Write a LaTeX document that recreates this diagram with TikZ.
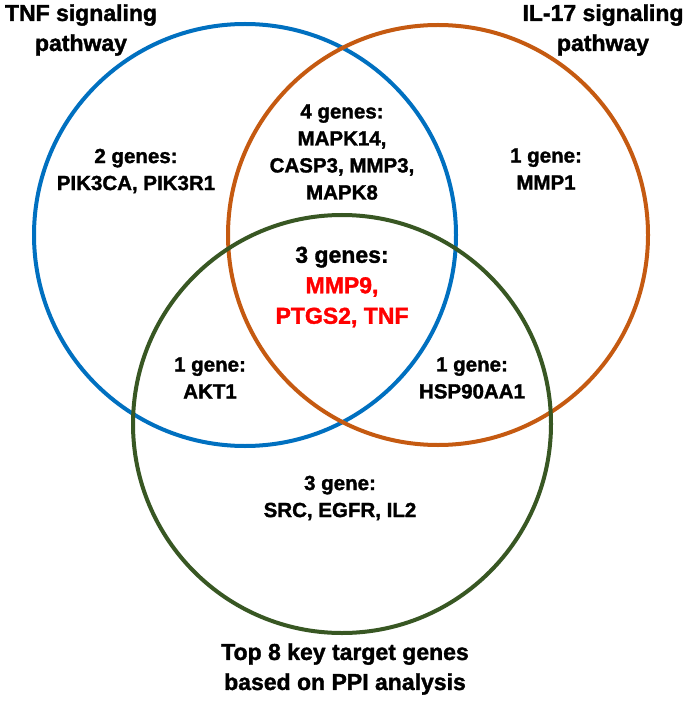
\documentclass[tikz,border=0pt]{standalone}
\usepackage{fontspec}
\setmainfont{Liberation Sans}[BoldFeatures={FakeBold=1.5}]
\definecolor{tnfblue}{HTML}{0070C0}
\definecolor{ilorange}{HTML}{C55A11}
\definecolor{ppigreen}{HTML}{385723}
\definecolor{keyred}{HTML}{FF0000}
\begin{document}
\begin{tikzpicture}[x=1pt,y=-1pt,
  ring/.style={line width=4pt},
  title/.style={font=\bfseries\fontsize{23}{30}\selectfont, align=center, inner sep=0pt},
  genes/.style={font=\bfseries\fontsize{20.5}{27}\selectfont, align=center, inner sep=0pt},
  core/.style={font=\bfseries\fontsize{23}{30.5}\selectfont, align=center, inner sep=0pt}]
\useasboundingbox (0,0) rectangle (685,708);
\fill[white] (0,0) rectangle (685,708);
% circles
\draw[ring, tnfblue] (245,235) circle [radius=211pt];
\draw[ring, ilorange] (438,235) circle [radius=210pt];
\draw[ring, ppigreen] (342,424) circle [radius=209pt];
% titles
\node[title] (tnftitle) at (81,30) {TNF signaling\\pathway};
\node[title] (iltitle) at (603,30) {IL-17 signaling\\pathway};
\node[title] (ppititle) at (345,669) {Top 8 key target genes\\based on PPI analysis};
% gene sets
\node[genes] (tnfonly) at (136,171) {2 genes:\\PIK3CA, PIK3R1};
\node[genes] (ilonly) at (546,169) {1 gene:\\MMP1};
\node[genes] (tnfil) at (342,152) {4 genes:\\MAPK14,\\CASP3, MMP3,\\MAPK8};
\node[core] (allthree) at (342,287) {3 genes:\\\textcolor{keyred}{MMP9,}\\\textcolor{keyred}{PTGS2, TNF}};
\node[genes] (tnfppi) at (210,378) {1 gene:\\AKT1};
\node[genes] (ilppi) at (472,378) {1 gene:\\HSP90AA1};
\node[genes] (ppionly) at (340,498) {3 gene:\\SRC, EGFR, IL2};
\end{tikzpicture}
\end{document}
